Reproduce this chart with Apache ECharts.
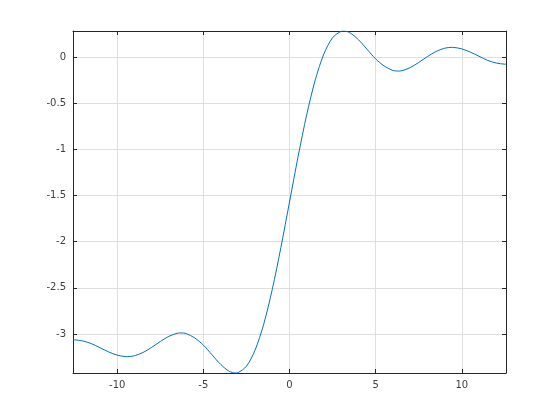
<!DOCTYPE html>
<html><head><meta charset="utf-8">
<script src="https://cdn.jsdelivr.net/npm/echarts@6/dist/echarts.min.js"></script>
<style>html,body{margin:0;padding:0;background:#fff}#c{width:560px;height:420px}</style>
</head><body><div id="c"></div>
<script>
const xs = [-12.566,-12.5,-12,-11.5,-11,-10.5,-10,-9.5,-9.4248,-9,-8.5,-8,-7.5,-7,-6.5,-6.2832,-6,-5.5,-5,-4.5,-4,-3.5,-3.1416,-3,-2.5,-2,-1.5,-1,-0.5,0,0.5,1,1.5,2,2.5,3,3.1416,3.5,4,4.5,5,5.5,6,6.2832,6.5,7,7.5,8,8.5,9,9.4248,9.5,10,10.5,11,11.5,12,12.5,12.566];
const ys = [-3.0630,-3.0633,-3.0758,-3.1047,-3.1491,-3.1938,-3.2292,-3.2453,-3.2456,-3.2358,-3.2004,-3.1450,-3.0818,-3.0254,-2.9917,-2.9889,-2.9955,-3.0429,-3.1207,-3.2250,-3.3290,-3.4040,-3.4227,-3.4195,-3.3493,-3.1762,-2.8955,-2.5169,-2.0639,-1.5708,-1.0777,-0.6247,-0.2461,0.0346,0.2077,0.2779,0.2811,0.2624,0.1874,0.0834,-0.0209,-0.0987,-0.1461,-0.1527,-0.1499,-0.1162,-0.0598,0.0034,0.0588,0.0942,0.1040,0.1037,0.0876,0.0522,0.0075,-0.0369,-0.0658,-0.0783,-0.0786];
const xTicks = [-10,-5,0,5,10];
const yTicks = [-3,-2.5,-2,-1.5,-1,-0.5,0];
const xMin = -12.566, xMax = 12.566, yMin = -3.4227, yMax = 0.2811;

const axisColor = '#262626';
const gridColor = '#dfdfdf';
const font = 'DejaVu Sans';
function fmt(v){ return String(v); }
function xa(pos, labels){
  return {type:'value', position:pos, min:xMin, max:xMax,
    axisLine:{show:true,onZero:false,lineStyle:{color:axisColor,width:1}},
    axisTick:{show:true,inside:true,length:4,customValues:xTicks,lineStyle:{color:axisColor}},
    axisLabel:{show:labels,customValues:xTicks,margin:7,color:'#404040',fontFamily:font,fontSize:10,formatter:fmt},
    splitLine:{show:labels,lineStyle:{color:gridColor,width:1}}};
}
function ya(pos, labels){
  return {type:'value', position:pos, min:yMin, max:yMax,
    axisLine:{show:true,onZero:false,lineStyle:{color:axisColor,width:1}},
    axisTick:{show:true,inside:true,length:4,customValues:yTicks,lineStyle:{color:axisColor}},
    axisLabel:{show:labels,customValues:yTicks,margin:7,color:'#404040',fontFamily:font,fontSize:10,formatter:fmt},
    splitLine:{show:labels,lineStyle:{color:gridColor,width:1}}};
}
const chart = echarts.init(document.getElementById('c'), null, {renderer:'canvas'});
chart.setOption({
  animation:false,
  backgroundColor:'#fff',
  grid:{left:73,top:31,right:54,bottom:47,containLabel:false},
  xAxis:[xa('bottom',true), xa('top',false)],
  yAxis:[ya('left',true), ya('right',false)],
  series:[{type:'line', xAxisIndex:0, yAxisIndex:0, data:xs.map((x,i)=>[x,ys[i]]),
    smooth:0.3, symbol:'none', lineStyle:{color:'#0072bd',width:1}}]
});
</script></body></html>
